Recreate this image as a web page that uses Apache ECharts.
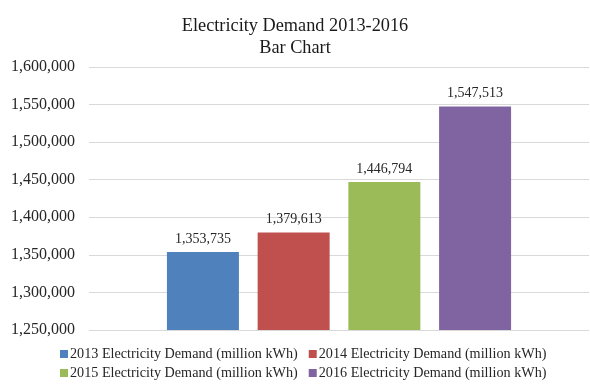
<!DOCTYPE html>
<html><head><meta charset="utf-8">
<script src="https://cdn.jsdelivr.net/npm/echarts@6/dist/echarts.min.js"></script>
<style>html,body{margin:0;padding:0;background:#fff}#c{width:590px;height:387px}</style>
</head><body><div id="c"></div>
<script>
const seriesNames = [
  '2013 Electricity Demand (million kWh)',
  '2014 Electricity Demand (million kWh)',
  '2015 Electricity Demand (million kWh)',
  '2016 Electricity Demand (million kWh)'
];
const values = [1353735, 1379613, 1446794, 1547513];
const colors = ['#4F81BD', '#C0504D', '#9BBB59', '#8064A2'];
const category = [''];
const yMin = 1250000, yMax = 1600000, yStep = 50000;

const font = '"Liberation Serif", "Times New Roman", serif';
const fmt = v => Number(v).toLocaleString('en-US');

const legendBase = {
  left: 60, orient: 'horizontal', padding: 0,
  icon: 'rect', itemWidth: 8, itemHeight: 8, itemGap: 11,
  textStyle: {fontFamily: font, fontSize: 14.2, color: '#262626', padding: [0, 0, 0, -3]},
  selectedMode: false
};

const chart = echarts.init(document.getElementById('c'), null, {renderer: 'canvas'});
chart.setOption({
  animation: false,
  textStyle: {fontFamily: font},
  title: {
    text: 'Electricity Demand 2013-2016\nBar Chart',
    left: 'center', top: 10,
    textStyle: {fontFamily: font, fontSize: 18.3, fontWeight: 'normal', color: '#1a1a1a', lineHeight: 22}
  },
  grid: {left: 89, right: 1, top: 67, bottom: 57},
  legend: [
    Object.assign({}, legendBase, {data: seriesNames.slice(0, 2), top: 347}),
    Object.assign({}, legendBase, {data: seriesNames.slice(2, 4), top: 366})
  ],
  xAxis: {
    type: 'category', data: category,
    axisLine: {show: false}, axisTick: {show: false}, axisLabel: {show: false}
  },
  yAxis: {
    type: 'value', min: yMin, max: yMax, interval: yStep,
    axisLine: {show: false}, axisTick: {show: false},
    axisLabel: {fontFamily: font, fontSize: 16, color: '#262626', margin: 14, formatter: fmt},
    splitLine: {lineStyle: {color: '#d9d9d9', width: 1}}
  },
  series: seriesNames.map((n, i) => ({
    name: n, type: 'bar',
    data: [values[i]],
    itemStyle: {color: colors[i]},
    barWidth: 72,
    barGap: '26%',
    label: {show: true, position: 'top', distance: 6, fontFamily: font, fontSize: 14, color: '#262626', formatter: p => fmt(p.value)}
  }))
});
</script></body></html>
